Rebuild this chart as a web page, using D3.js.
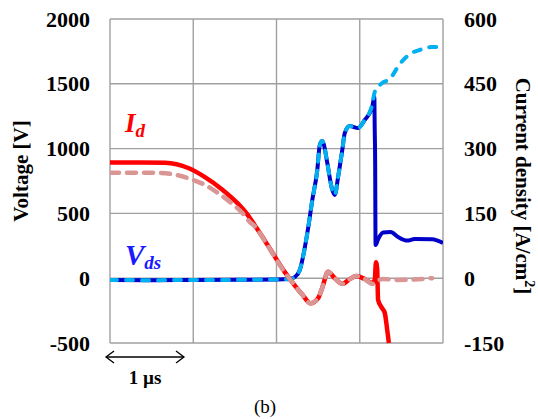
<!DOCTYPE html>
<html>
<head>
<meta charset="utf-8">
<script src="https://cdn.jsdelivr.net/npm/d3@7"></script>
<style>
  body { margin: 0; background: #fff; }
  svg text { font-family: "Times New Roman", "Liberation Serif", Tinos, serif !important; }
</style>
</head>
<body>
<div id="chart"></div>
<script>
// values, time in µs
// Vds measured [V]
const vdsMeas = [
  [0, -14], [0.5, -16], [1.0, -14], [1.5, -12], [2.0, -10], [2.16, -6], [2.22, 9],
  [2.28, 63], [2.33, 202], [2.38, 387], [2.43, 603], [2.49, 835], [2.52, 1028],
  [2.55, 1059], [2.57, 1028], [2.61, 889], [2.67, 681], [2.70, 642], [2.74, 781],
  [2.79, 989], [2.82, 1120], [2.88, 1174], [2.98, 1159], [3.06, 1221], [3.15, 1321],
  [3.175, 1398], [3.18, 1143], [3.185, 912], [3.19, 256], [3.22, 300], [3.28, 352],
  [3.37, 356], [3.46, 318], [3.57, 290], [3.66, 302], [3.87, 300], [4.0, 272]
]
// Vds simulated [V]
const vdsSim = [
  [0, -14], [0.5, -15], [1.0, -14], [1.5, -13], [2.0, -10], [2.16, -6], [2.22, 9],
  [2.28, 63], [2.33, 202], [2.38, 387], [2.43, 603], [2.49, 835], [2.52, 1028],
  [2.55, 1059], [2.57, 1028], [2.61, 889], [2.67, 681], [2.70, 642], [2.74, 781],
  [2.79, 989], [2.82, 1120], [2.88, 1174], [2.98, 1159], [3.06, 1221], [3.15, 1340],
  [3.18, 1437], [3.27, 1506], [3.36, 1537], [3.48, 1652], [3.62, 1737], [3.72, 1761],
  [3.86, 1784], [4.0, 1784]
]
// Id measured [A/cm2]
const idMeas = [
  [0, 268], [0.36, 268], [0.66, 267], [0.94, 255], [1.14, 234], [1.35, 205],
  [1.54, 172], [1.66, 145], [1.74, 122], [1.86, 87], [1.98, 50], [2.10, 14],
  [2.20, -12], [2.31, -38], [2.41, -58], [2.50, -46], [2.55, -22],
  [2.62, 15], [2.70, 0], [2.79, -13], [2.88, -2], [2.96, 5], [3.06, -2],
  [3.15, -11], [3.18, -4], [3.195, 37], [3.21, 19], [3.22, -50], [3.26, -67],
  [3.30, -80], [3.33, -120], [3.35, -150]
]
// Id simulated [A/cm2]
const idSim = [
  [0, 244], [0.54, 244], [0.74, 241], [0.96, 230], [1.14, 216], [1.30, 197],
  [1.47, 172], [1.59, 151], [1.68, 130], [1.74, 120], [1.86, 86], [1.98, 49],
  [2.10, 13], [2.20, -12], [2.31, -38], [2.41, -58], [2.50, -46],
  [2.55, -22], [2.62, 15], [2.70, 0], [2.79, -13], [2.88, -2], [2.96, 5],
  [3.06, -2], [3.15, -13], [3.27, -2], [3.46, -4], [3.75, -2], [3.87, 0]
]
const voltTicks = [-500, 0, 500, 1000, 1500, 2000]
const currTicks = [-150, 0, 150, 300, 450, 600]
const timeGrid = [0, 1, 2, 3, 4]

const W = 538, H = 419
const margin = { top: 19, right: 95, bottom: 76, left: 110 }
const width  = W - margin.left - margin.right
const height = H - margin.top - margin.bottom

const xScale = d3.scaleLinear().domain([0, 4]).range([0, width])
const yVolt  = d3.scaleLinear().domain([-500, 2000]).range([height, 0])
const yCurr  = d3.scaleLinear().domain([-150, 600]).range([height, 0])

const svgRoot = d3.select('#chart').append('svg')
    .attr('width', W).attr('height', H)

const svg = svgRoot.append('g')
    .attr('transform', `translate(${margin.left},${margin.top})`)

svg.append('clipPath').attr('id', 'plot-clip')
    .append('rect').attr('x', 0).attr('y', 0).attr('width', width).attr('height', height + 1)

// grid
const gridColor = '#a0a0a0'
svg.selectAll('.hgrid').data(voltTicks).join('line')
    .attr('class', 'hgrid')
    .attr('x1', 0).attr('x2', width)
    .attr('y1', d => yVolt(d)).attr('y2', d => yVolt(d))
    .attr('stroke', gridColor).attr('stroke-width', 1.4)
svg.selectAll('.vgrid').data(timeGrid).join('line')
    .attr('class', 'vgrid')
    .attr('x1', d => xScale(d)).attr('x2', d => xScale(d))
    .attr('y1', 0).attr('y2', height)
    .attr('stroke', gridColor).attr('stroke-width', 1.4)

// axes (labels only)
svg.append('g')
    .call(d3.axisLeft(yVolt).tickValues(voltTicks).tickFormat(d => String(d)).tickSize(0).tickPadding(20))
    .call(g => g.select('.domain').remove())
    .selectAll('text')
        .style('font-size', '22px').style('font-weight', 'bold').style('fill', '#000')

svg.append('g')
    .attr('transform', `translate(${width},0)`)
    .call(d3.axisRight(yCurr).tickValues(currTicks).tickFormat(d => String(d)).tickSize(0).tickPadding(21))
    .call(g => g.select('.domain').remove())
    .selectAll('text')
        .style('font-size', '22px').style('font-weight', 'bold').style('fill', '#000')

// curves
const lineV = d3.line().curve(d3.curveMonotoneX).x(d => xScale(d[0])).y(d => yVolt(d[1]))
const lineI = d3.line().curve(d3.curveMonotoneX).x(d => xScale(d[0])).y(d => yCurr(d[1]))

const curves = svg.append('g').attr('clip-path', 'url(#plot-clip)')

curves.append('path').datum(vdsMeas)
    .attr('d', lineV).attr('fill', 'none')
    .attr('stroke', '#0000c8').attr('stroke-width', 4).attr('stroke-linejoin', 'round')
curves.append('path').datum(vdsSim)
    .attr('d', lineV).attr('fill', 'none')
    .attr('stroke', '#00b0f0').attr('stroke-width', 4)
    .attr('stroke-dasharray', '7,9').attr('stroke-linecap', 'round')
curves.append('path').datum(idMeas)
    .attr('d', lineI).attr('fill', 'none')
    .attr('stroke', '#ff0000').attr('stroke-width', 4.5).attr('stroke-linejoin', 'round')
curves.append('path').datum(idSim)
    .attr('d', lineI).attr('fill', 'none')
    .attr('stroke', '#d99694').attr('stroke-width', 4.5)
    .attr('stroke-dasharray', '9,8').attr('stroke-linecap', 'round')

// axis titles
svgRoot.append('text')
    .attr('transform', 'translate(21,171) rotate(-90)')
    .attr('text-anchor', 'middle').attr('dominant-baseline', 'central')
    .style('font-size', '21px').style('font-weight', 'bold')
    .text('Voltage [V]')

const rt = svgRoot.append('text')
    .attr('transform', 'translate(523,186) rotate(90)')
    .attr('text-anchor', 'middle').attr('dominant-baseline', 'central')
    .style('font-size', '21px').style('font-weight', 'bold')
rt.append('tspan').text('Current density [A/cm')
rt.append('tspan').attr('dy', -7).style('font-size', '14px').text('2')
rt.append('tspan').attr('dy', 7).text(']')

// series labels
const idLab = svgRoot.append('text').attr('x', 125).attr('y', 132)
    .style('font-style', 'italic').style('font-weight', 'bold').style('fill', '#ff0000')
    .style('font-size', '27px')
idLab.append('tspan').text('I')
idLab.append('tspan').attr('dy', 5).style('font-size', '19px').text('d')

const vLab = svgRoot.append('text').attr('x', 125).attr('y', 265)
    .style('font-style', 'italic').style('font-weight', 'bold').style('fill', '#1a1aff')
    .style('font-size', '29px')
vLab.append('tspan').text('V')
vLab.append('tspan').attr('dy', 4).style('font-size', '19px').text('ds')

// 1 µs scale arrow
const ay = 357
svgRoot.append('line').attr('x1', 106).attr('x2', 184).attr('y1', ay).attr('y2', ay)
    .attr('stroke', '#000').attr('stroke-width', 1.3)
svgRoot.append('path')
    .attr('d', `M${114},${ay - 6} L${106},${ay} L${114},${ay + 6} M${176},${ay - 6} L${184},${ay} L${176},${ay + 6}`)
    .attr('fill', 'none').attr('stroke', '#000').attr('stroke-width', 1.3)
svgRoot.append('text').attr('x', 145).attr('y', 384)
    .attr('text-anchor', 'middle')
    .style('font-size', '19px').style('font-weight', 'bold')
    .text('1 µs')

svgRoot.append('text').attr('x', 265).attr('y', 413)
    .attr('text-anchor', 'middle')
    .style('font-size', '19px')
    .text('(b)')
</script>
</body>
</html>
